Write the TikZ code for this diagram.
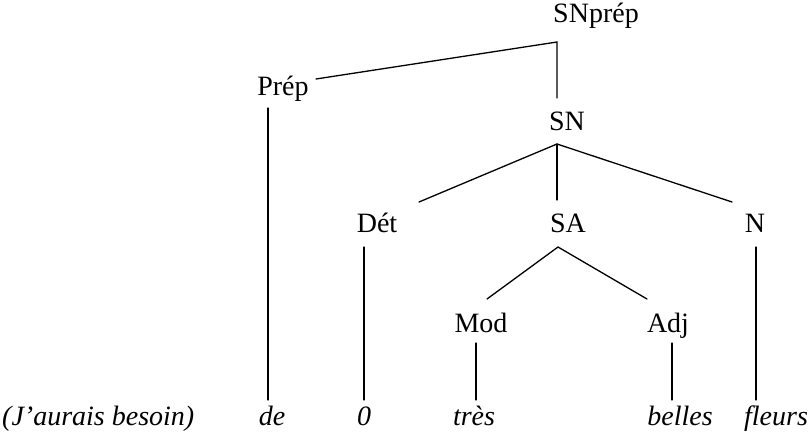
\documentclass[tikz,border=0pt]{standalone}
\usepackage{fontspec}
\setmainfont{Liberation Serif}
\begin{document}
\begin{tikzpicture}[x=1pt,y=-1pt,
  lbl/.style={inner sep=0pt,anchor=base,font=\fontsize{28}{33}\selectfont},
  word/.style={inner sep=0pt,anchor=base,font=\fontsize{28}{33}\selectfont\itshape},
  br/.style={line width=1.3pt,line cap=round}]
\useasboundingbox (0,0) rectangle (810,442);
% category labels
\node[lbl] (snprep) at (596,22) {SNprép};
\node[lbl] (prep) at (283,95) {Prép};
\node[lbl] (sn) at (567,130) {SN};
\node[lbl] (det) at (377,232) {Dét};
\node[lbl] (sa) at (568,232) {SA};
\node[lbl] (n) at (755,232) {N};
\node[lbl] (mod) at (481,332) {Mod};
\node[lbl] (adj) at (668,332) {Adj};
% words
\node[word,anchor=base west] (ctx) at (2,425) {(J'aurais besoin)};
\node[word] (de) at (272,425) {de};
\node[word] (zero) at (364,425) {0};
\node[word] (tres) at (474,425) {très};
\node[word] (belles) at (680,425) {belles};
\node[word] (fleurs) at (776,425) {fleurs};
% connector end points
\coordinate (snprep-d) at (557,42);
\coordinate (prep-r) at (316,79);
\coordinate (sn-u) at (557,98);
\coordinate (sn-d) at (557,144);
\coordinate (det-u) at (419,202);
\coordinate (sa-u) at (557,200);
\coordinate (n-u) at (732,202);
\coordinate (sa-d) at (558,247);
\coordinate (mod-u) at (487,299);
\coordinate (adj-u) at (647,299);
\coordinate (prep-d) at (268,108);
\coordinate (de-u) at (268,400);
\coordinate (det-d) at (364,247);
\coordinate (zero-u) at (364,400);
\coordinate (mod-d) at (476,343);
\coordinate (tres-u) at (476,400);
\coordinate (adj-d) at (672,343);
\coordinate (belles-u) at (672,400);
\coordinate (n-d) at (756,247);
\coordinate (fleurs-u) at (756,400);
% branches
\draw[br] (prep-r) -- (snprep-d) -- (sn-u);
\draw[br] (det-u) -- (sn-d) -- (n-u);
\draw[br] (sn-d) -- (sa-u);
\draw[br] (mod-u) -- (sa-d) -- (adj-u);
\draw[br] (prep-d) -- (de-u);
\draw[br] (det-d) -- (zero-u);
\draw[br] (mod-d) -- (tres-u);
\draw[br] (adj-d) -- (belles-u);
\draw[br] (n-d) -- (fleurs-u);
\end{tikzpicture}
\end{document}
